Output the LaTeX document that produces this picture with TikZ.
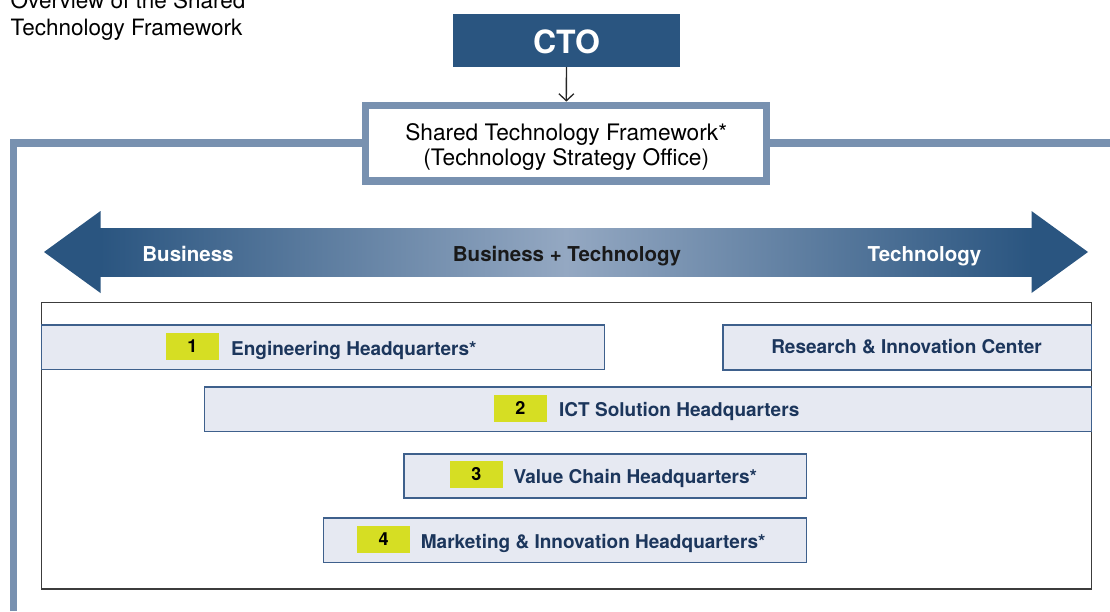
\documentclass[tikz,border=0pt]{standalone}
\usepackage{fontspec}
\setmainfont{TeX Gyre Heros}
\usepackage{tikz}
\usetikzlibrary{arrows.meta, positioning}
\usepackage{xcolor}

\definecolor{ctoblue}{RGB}{42,85,128}
\definecolor{arrowlight}{RGB}{148,168,194}
\definecolor{framegray}{RGB}{120,145,176}
\definecolor{griddark}{RGB}{60,60,60}
\definecolor{unitfill}{RGB}{230,233,242}
\definecolor{unitedge}{RGB}{62,96,140}
\definecolor{unittext}{RGB}{28,54,92}
\definecolor{badgegreen}{RGB}{214,222,35}

\begin{document}
\begin{tikzpicture}[
                x=1pt, y=-1pt,
                >={Straight Barb[length=7pt, width=15pt]},
                hqbox/.style={draw=unitedge, line width=1.4pt, fill=unitfill,
                    anchor=north west, inner sep=0pt},
                badge/.style={fill=badgegreen, minimum width=53pt, minimum height=27pt,
                    inner sep=0pt, font=\fontsize{18}{20}\selectfont\bfseries},
                hqtext/.style={inner sep=0pt, text=unittext,
                    font=\fontsize{19}{22}\selectfont\bfseries},
                arrowtext/.style={anchor=base, inner sep=0pt,
                    font=\fontsize{20.5}{24}\selectfont\bfseries},
                frameline/.style={draw=framegray, line width=7.5pt}
            ]
                \useasboundingbox (0,0) rectangle (1110,611);
                \node[anchor=base west, align=left, inner sep=0pt,
                    font=\fontsize{22.5}{27}\selectfont] (title) at (10.5,35)
                    {Overview of the Shared\\Technology Framework};
                % CTO and the framework office
                \node[fill=ctoblue, minimum width=227pt, minimum height=53pt] (cto) at (566.5,40.3) {};
                \node[anchor=base, inner sep=0pt, text=white,
                    font=\fontsize{32}{36}\selectfont\bfseries] (ctotext) at (566.5,53.3) {CTO};
                \node[draw=framegray, line width=7.5pt, outer sep=3.75pt, fill=white,
                    minimum width=401pt, minimum height=75.7pt] (stf) at (566.2,143.2) {};
                \node[align=center, inner sep=0pt, font=\fontsize{22.7}{25.7}\selectfont,
                    anchor=base] (stftext) at (566.2,165.7)
                    {Shared Technology Framework*\\(Technology Strategy Office)};
                \path[->, line width=1.3pt, draw=black!85] (cto) edge (stf);
                \coordinate (fl) at (13.5,611);
                \coordinate (fr) at (1110,143.2);
                \draw[frameline] (fl) |- (stf.west);
                \draw[frameline] (stf.east) -- (fr);
                % business / technology axis
                \shade[left color=ctoblue, right color=ctoblue, middle color=arrowlight]
                    (100,228) rectangle (1032,276);
                \fill[ctoblue] (100.5,211) -- (44,252) -- (100.5,293) -- cycle;
                \fill[ctoblue] (1031.5,211) -- (1088,252) -- (1031.5,293) -- cycle;
                \node[arrowtext, text=white] (biz) at (188,261.7) {Business};
                \node[arrowtext, text=black!90] (both) at (567,261.7) {Business + Technology};
                \node[arrowtext, text=white] (tech) at (924.5,261.7) {Technology};
                % headquarters
                \node[draw=griddark, line width=1.3pt, anchor=north west, inner sep=0pt,
                    minimum width=1050pt, minimum height=286.6pt] (grid) at (41,301.7) {};
                \node[hqbox, minimum width=563pt, minimum height=44.7pt] (eng) at (41,324.3) {};
                \node[hqbox, minimum width=368.7pt, minimum height=45pt] (ric) at (722.3,324.3) {};
                \node[hqbox, minimum width=887pt, minimum height=44.5pt] (ict) at (204,386.2) {};
                \node[hqbox, minimum width=402.7pt, minimum height=44pt] (vch) at (403.3,453.3) {};
                \node[hqbox, minimum width=483.3pt, minimum height=44.4pt] (mkt) at (322.7,517.3) {};
                \node[badge] (b1) at (192.5,346.3) {1};
                \node[badge] (b2) at (520.4,408.4) {2};
                \node[badge] (b3) at (476.3,474.3) {3};
                \node[badge] (b4) at (383.7,539.3) {4};
                \node[hqtext, anchor=base west] (engtext) at (231,355.5) {Engineering Headquarters*};
                \node[hqtext, anchor=base] (rictext) at (906.5,353.4) {Research \& Innovation Center};
                \node[hqtext, anchor=base west] (icttext) at (559,416.7) {ICT Solution Headquarters};
                \node[hqtext, anchor=base west] (vchtext) at (513.3,483.3) {Value Chain Headquarters*};
                \node[hqtext, anchor=base west] (mkttext) at (420.7,548.3) {Marketing \& Innovation Headquarters*};
            \end{tikzpicture}
\end{document}
